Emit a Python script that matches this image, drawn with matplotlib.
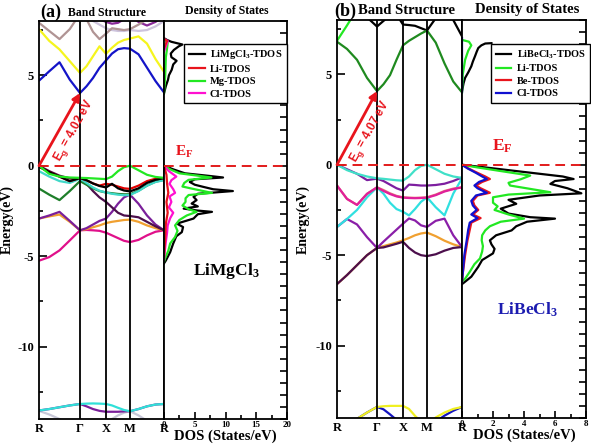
import numpy as np
import matplotlib
matplotlib.use("Agg")
import matplotlib.pyplot as plt
from matplotlib.ticker import MultipleLocator

nan = np.nan

# ---------------- k path ----------------
KPATH_LABELS = ["R", "Γ", "X", "M", "R"]
KPOS_A = [0, 1.64, 2.68, 3.64, 5.0]
KPOS_B = [0, 1.60, 2.64, 3.60, 5.0]
K_A = [0, 0.41, 0.82, 1.23, 1.64, 1.90, 2.16, 2.42, 2.68, 2.92, 3.16, 3.40, 3.64, 3.98, 4.32, 4.66, 5.0]
K_B = [0, 0.40, 0.80, 1.20, 1.60, 1.86, 2.12, 2.38, 2.64, 2.88, 3.12, 3.36, 3.60, 3.95, 4.30, 4.65, 5.0]

# ---------------- LiMgCl3 bands (eV) ----------------
a_taupe    = [7.90, 7.45, 7.00, 7.55, 8.40, 8.10, 7.40, 7.00, 7.30, 7.60, 7.55, 7.50, 7.55, 7.80, 8.10, 8.50, 8.80]
a_lavender = [8.60, 8.50, 8.40, 8.30, 8.30, 8.20, 8.00, 7.80, 7.60, 7.50, 7.45, 7.45, 7.50, 7.45, 7.50, 7.70, 8.00]
a_violet_t = [9.00, 9.00, 9.00, 9.00, 9.00, 8.80, 8.40, 8.10, 7.95, 7.85, 7.90, 8.10, 8.30, 7.95, 7.75, 7.95, 8.30]
a_yellow   = [7.55, 6.90, 6.43, 5.78, 5.13, 5.50, 6.05, 6.60, 6.19, 6.52, 6.80, 6.95, 7.03, 7.15, 6.75, 5.90, 5.19]
a_blue     = [4.70, 5.22, 5.72, 4.76, 4.02, 4.39, 4.85, 5.41, 5.82, 6.20, 6.44, 6.50, 6.47, 6.16, 5.42, 4.68, 4.05]

a_pink     = [-5.25, -5.05, -4.68, -4.13, -3.57, -3.55, -3.57, -3.60, -3.70, -3.85, -4.00, -4.15, -4.22, -4.10, -3.85, -3.65, -3.57]
a_orange   = [-2.92, -2.80, -2.70, -3.10, -3.57, -3.50, -3.40, -3.30, -3.17, -3.10, -3.05, -3.00, -2.98, -3.10, -3.30, -3.45, -3.57]
a_purple   = [-2.92, -2.75, -2.55, -3.05, -3.57, -3.45, -3.25, -3.05, -2.92, -2.55, -2.10, -1.75, -1.60, -2.10, -2.75, -3.25, -3.57]
a_dkpurple = [0.00, -0.30, -0.55, -0.70, -0.72, -1.00, -1.40, -1.75, -2.00, -2.30, -2.60, -2.75, -2.78, -2.85, -3.10, -3.35, -3.57]
a_dkgreen  = [-1.26, -1.60, -1.90, -1.40, -0.85, -1.05, -1.25, -1.40, -1.48, -1.52, -1.56, -1.58, -1.58, -1.38, -1.10, -0.88, -0.78]
a_teal     = [-0.30, -0.60, -0.85, -0.95, -0.72, -0.95, -1.20, -1.38, -1.48, -1.55, -1.60, -1.63, -1.62, -1.40, -1.10, -0.90, -0.80]
a_red      = [-0.05, -0.35, -0.60, -0.85, -0.68, -0.80, -0.98, -1.10, -1.00, -1.05, -1.15, -1.25, -1.28, -1.10, -0.85, -0.72, -0.68]
a_black    = [-0.05, -0.35, -0.60, -0.85, -0.68, -0.80, -0.98, -1.12, -1.20, -1.00, -1.25, -1.37, -1.42, -1.25, -0.95, -0.78, -0.68]
a_lime     = [0.00, -0.45, -0.60, -0.65, -0.67, -0.68, -0.70, -0.72, -0.74, -0.60, -0.30, -0.08, 0.00, -0.25, -0.50, -0.62, -0.67]

a_gray_low   = [-13.55, -13.75, -14.00, -14.30, -14.60, -14.60, -14.50, -14.40, -14.30, -14.00, -13.80, -13.65, -13.57, -13.80, -14.10, -14.40, -14.70]
a_violet_low = [-13.53, -13.45, -13.35, -13.25, -13.17, -13.30, -13.45, -13.55, -13.60, -13.60, -13.60, -13.58, -13.57, -13.45, -13.30, -13.20, -13.17]
a_cyan_low   = [-13.53, -13.45, -13.35, -13.25, -13.17, -13.15, -13.14, -13.15, -13.17, -13.25, -13.38, -13.50, -13.57, -13.45, -13.30, -13.20, -13.17]

# ---------------- LiBeCl3 bands (eV) ----------------
b_lime_t   = [6.85, 7.70, 8.60, 9.20, 9.50, 9.50, 9.50, 9.50, 9.50, 9.50, 9.50, 9.50, 9.50, 9.50, 9.50, 9.50, 9.50]
b_black_t  = [9.50, 9.20, 8.80, 8.15, 7.64, 7.95, 8.25, 8.30, 7.75, 7.72, 7.68, 7.55, 7.42, 8.10, 8.60, 8.00, 7.10]
b_green    = [6.80, 6.40, 5.80, 4.80, 4.07, 4.45, 4.95, 5.80, 6.60, 6.85, 7.05, 7.25, 7.42, 6.75, 5.60, 4.60, 4.00]

b_dkpurple = [-6.60, -6.10, -5.55, -5.00, -4.60, -4.57, -4.47, -4.37, -4.26, -4.60, -4.85, -5.00, -5.05, -4.95, -4.75, -4.60, -4.55]
b_orange   = [-6.60, -6.10, -5.55, -5.00, -4.60, -4.50, -4.40, -4.30, -4.18, -4.05, -3.90, -3.80, -3.75, -3.95, -4.20, -4.40, -4.55]
b_purple2  = [-3.44, -3.00, -3.30, -4.00, -4.60, -4.25, -3.92, -3.59, -3.26, -2.97, -3.08, -3.35, -3.44, -3.10, -2.98, -3.90, -4.55]
b_cyan     = [-3.44, -3.00, -2.50, -1.80, -1.25, -1.60, -2.10, -2.45, -2.60, -2.80, -2.45, -2.05, -1.80, -2.35, -2.80, -1.60, -0.75]
b_salmon   = [-1.15, -1.89, -2.22, -1.61, -1.25, -1.40, -1.58, -1.72, -1.80, -1.82, -1.83, -1.82, -1.80, -1.65, -1.45, -1.32, -1.25]
b_magenta  = [-1.15, -1.89, -2.22, -1.61, -1.25, -1.45, -1.62, -1.75, -1.82, -1.84, -1.85, -1.84, -1.82, -1.68, -1.48, -1.35, -1.25]
b_violet   = [0.00, -0.25, -0.50, -0.85, -0.77, -0.90, -1.10, -1.30, -1.43, -1.10, -1.12, -1.15, -1.15, -1.12, -1.05, -0.90, -0.70]
b_turq     = [0.00, -0.30, -0.50, -0.65, -0.75, -0.78, -0.82, -0.86, -0.88, -0.65, -0.30, -0.07, 0.00, -0.25, -0.50, -0.65, -0.73]

b_blue_low   = [-14.80, -14.40, -14.05, -13.70, -13.39, -13.52, -13.80, -14.10, -14.50, -14.80, -15.00, -14.80, -14.50, -14.20, -13.87, -13.60, -13.39]
b_yellow_low = [-14.80, -14.40, -14.05, -13.70, -13.39, -13.35, -13.33, -13.33, -13.33, -13.50, -13.88, -14.20, -14.45, -13.97, -13.70, -13.50, -13.39]

# ---------------- LiMgCl3 DOS (energy, states/eV) ----------------
a_tdos_E = [4.0, 4.4, 4.75, 5.0, 5.3, 5.6, 5.8, 6.0, 6.2, 6.4, 6.6, 6.7, 6.85, 6.95, 7.05, nan,
            0, -0.2, -0.42, -0.55, -0.65, -0.75, -0.9, -1.05, -1.17, -1.3, -1.4, -1.55, -1.72, -1.9,
            -2.09, -2.25, -2.37, -2.48, -2.55, -2.68, -2.92, -3.2, -3.39, -3.67, -3.9, -4.3, -4.78, -5.24, -5.4]
a_tdos_D = [0, 0.3, 0.65, 0.8, 1.25, 1.5, 2.05, 1.2, 1.1, 1.6, 2.4, 3.0, 1.2, 0.5, 0, nan,
            0, 1.5, 3.4, 7.0, 9.6, 5.0, 4.2, 5.0, 6.4, 8.0, 11.2, 5.5, 4.8, 5.3,
            4.5, 5.5, 3.2, 5.5, 7.8, 5.5, 4.8, 2.1, 3.1, 2.9, 2.0, 1.5, 1.0, 0.3, 0]
a_li_E = [6.5, 6.75, 6.9, 7.0, nan, 0, -0.5, -1.0, -1.5, -2.0, -2.6, -3.2, -4.0, -5.0]
a_li_D = [0, 0.3, 0.5, 0, nan, 0, 0.4, 0.5, 0.7, 0.4, 0.6, 0.3, 0.2, 0]
a_mg_E = [4.0, 5.0, 6.0, 6.5, 6.8, 7.0, nan, 0, -0.2, -0.42, -0.55, -0.65, -0.78, -0.95, -1.15, -1.3, -1.5,
          -1.62, -1.8, -2.0, -2.2, -2.4, -2.55, -2.75, -3.0, -3.3, -3.6, -3.94, -4.3, -4.7, -5.1, -5.3]
a_mg_D = [0, 0.2, 0.3, 0.5, 0.6, 0, nan, 0, 1.0, 2.5, 5.5, 7.7, 4.0, 3.3, 3.0, 5.0, 7.8,
          4.0, 3.5, 3.5, 3.0, 4.0, 5.3, 3.7, 2.5, 1.8, 2.2, 1.8, 1.0, 0.7, 0.2, 0]
a_cl_E = [6.3, 6.7, 6.9, 7.0, nan, 0, -0.3, -0.6, -0.8, -1.0, -1.3, -1.5, -1.7, -2.0, -2.3, -2.6, -2.9,
          -3.3, -3.7, -4.2, -4.8, -5.2]
a_cl_D = [0, 0.4, 0.6, 0, nan, 0, 0.8, 2.0, 1.2, 0.9, 1.5, 1.8, 0.9, 1.2, 0.8, 1.5, 1.0,
          0.6, 0.5, 0.3, 0.1, 0]

# ---------------- LiBeCl3 DOS ----------------
b_tdos_E = [4.05, 4.5, 4.8, 5.1, 5.44, 5.7, 6.0, 6.25, 6.45, 6.6, 6.7, 6.72, nan,
            0, -0.1, -0.25, -0.45, -0.65, -0.79, -0.9, -1.06, -1.3, -1.58, -1.7, -1.94, -2.16, -2.43,
            -2.7, -2.9, -2.98, -3.15, -3.4, -3.63, -3.9, -4.18, -4.4, -4.65, -4.9, -5.27, -5.64, -6.19, -6.5, -6.6]
b_tdos_D = [0, 0.1, 0.2, 0.4, 0.6, 0.7, 0.84, 0.95, 1.05, 1.25, 1.5, 1.9, nan,
            0, 1.0, 2.5, 4.5, 6.5, 7.2, 6.0, 5.7, 6.8, 7.7, 5.0, 3.0, 3.5, 2.5,
            3.0, 4.4, 6.0, 4.2, 3.5, 3.2, 2.2, 1.8, 1.9, 2.1, 2.0, 1.3, 1.05, 0.6, 0.15, 0]
b_li_E = [4.0, 5.0, 5.8, 6.3, 6.6, 6.8, 6.9, nan, 0, -0.15, -0.35, -0.6, -0.8, -1.0, -1.15, -1.35, -1.52,
          -1.65, -1.8, -2.1, -2.3, -2.5, -2.75, -2.98, -3.15, -3.4, -3.63, -3.9, -4.18, -4.5, -4.8,
          -5.18, -5.5, -5.92, -6.3, -6.47]
b_li_D = [0, 0.05, 0.2, 0.4, 0.6, 0.45, 0, nan, 0, 1.0, 2.5, 4.4, 3.8, 3.0, 3.1, 4.5, 5.7,
          3.0, 2.0, 2.0, 2.3, 2.1, 3.0, 4.0, 2.5, 1.8, 1.5, 1.3, 1.27, 1.35, 1.3,
          1.16, 0.8, 0.5, 0.2, 0]
b_pdos_E = [0, -0.2, -0.45, -0.65, -0.79, -0.95, -1.15, -1.3, -1.55, -1.7, -2.0, -2.25, -2.5, -2.75,
            -2.95, -3.2, -3.6, -4.2, -5.0, -6.0, -6.5]
b_be_D = [0, 0.4, 1.0, 1.5, 1.8, 1.3, 0.9, 1.2, 1.8, 1.0, 0.7, 0.8, 1.05, 0.7, 1.2, 0.6, 0.5, 0.35, 0.2, 0.05, 0]
b_cl_D = [0, 0.35, 0.9, 1.3, 1.6, 1.1, 0.8, 1.0, 1.6, 0.9, 0.6, 0.7, 0.95, 0.6, 1.0, 0.5, 0.4, 0.3, 0.15, 0.05, 0]
b_cl_cb_E = [4.0, 7.0]
b_cl_cb_D = [0.03, 0.03]

EG_A = 4.02
EG_B = 4.07


def setup_fonts():
    plt.rcParams["font.family"] = ["Liberation Serif", "DejaVu Serif"]
    plt.rcParams["font.weight"] = "bold"
    plt.rcParams["axes.unicode_minus"] = False
    plt.rcParams["mathtext.fontset"] = "custom"
    plt.rcParams["mathtext.rm"] = "Liberation Serif:bold"
    plt.rcParams["mathtext.it"] = "Liberation Serif:bold"
    plt.rcParams["mathtext.bf"] = "Liberation Serif:bold"
    plt.rcParams["mathtext.sf"] = "Liberation Sans:bold"
    plt.rcParams["mathtext.default"] = "rm"


def draw_bands(ax, k, kpos, bands, eg, eg_text, text_xy, label_x):
    for e, c in bands:
        ax.plot(k, e, color=c, lw=1.6, solid_capstyle="round")
    for x in kpos[1:-1]:
        ax.axvline(x, color="black", lw=1.3, zorder=3)
    ax.axhline(0, color="#e21b1b", lw=1.4, ls=(0, (5, 3)), zorder=4)
    ax.set_xlim(kpos[0], kpos[-1])
    ax.set_ylim(-14, 8)
    ax.set_xticks(kpos)
    ax.set_xticklabels(KPATH_LABELS, fontsize=9)
    ax.tick_params(axis="x", length=0, pad=3)
    ax.yaxis.set_major_locator(MultipleLocator(5))
    ax.yaxis.set_minor_locator(MultipleLocator(2.5))
    ax.tick_params(axis="y", which="both", direction="in", labelsize=9, right=False)
    ax.tick_params(axis="y", which="major", length=6, width=1.2)
    ax.tick_params(axis="y", which="minor", length=3, width=1.2)
    ax.set_ylabel("Energy(eV)", fontsize=10, fontweight="bold")
    ax.yaxis.set_label_coords(label_x, 0.5)
    for s in ax.spines.values():
        s.set_linewidth(1.3)
    ax.annotate("", xy=(kpos[1], eg), xytext=(0, 0),
                arrowprops=dict(arrowstyle="-|>", color="#e8141c", lw=2.0, mutation_scale=11,
                                shrinkA=0, shrinkB=0), zorder=6)
    ax.text(text_xy[0], text_xy[1], eg_text, color="#e8141c", fontsize=8.5, rotation=61,
            ha="center", va="center", rotation_mode="anchor", family="Liberation Sans", zorder=6)


def draw_dos(ax, curves, xmax, xmaj, xmin):
    lines = []
    for e, d, c in curves:
        lines += ax.plot(d, e, color=c, lw=1.6)
    ax.axhline(0, color="#e21b1b", lw=1.4, ls=(0, (5, 3)), zorder=4)
    ax.set_xlim(0, xmax)
    ax.set_ylim(-14, 8)
    ax.xaxis.set_major_locator(MultipleLocator(xmaj))
    ax.xaxis.set_minor_locator(MultipleLocator(xmin))
    ax.set_yticks(np.arange(-21, 13) * 2 / 3)
    ax.tick_params(axis="y", which="both", left=False, right=True, labelleft=False,
                   direction="in", length=5, width=1.2)
    ax.tick_params(axis="x", which="major", direction="in", length=5, width=1.2, labelsize=6.5, pad=1.5)
    ax.tick_params(axis="x", which="minor", direction="in", length=3, width=1.2)
    ax.set_xlabel("DOS (States/eV)", fontsize=10.5, fontweight="bold", labelpad=0)
    for s in ax.spines.values():
        s.set_linewidth(1.3)
    return lines


def add_legend(ax, handles, labels, anchor):
    leg = ax.legend(handles, labels, loc="upper right", bbox_to_anchor=anchor, fontsize=7.5,
                    fancybox=False, edgecolor="black", framealpha=1, handlelength=1.5,
                    labelspacing=0.3, borderpad=0.45, handletextpad=0.5, borderaxespad=0)
    leg.get_frame().set_linewidth(1.0)


def main():
    setup_fonts()
    W, H = 591, 448
    fig = plt.figure(figsize=(W / 100, H / 100), dpi=100)

    def box(x0, y0, x1, y1):
        return [x0 / W, 1 - y1 / H, (x1 - x0) / W, (y1 - y0) / H]

    ax_ba = fig.add_axes(box(39, 21, 164, 419))
    ax_da = fig.add_axes(box(164, 21, 287, 419))
    ax_bb = fig.add_axes(box(337, 20, 462, 418))
    ax_db = fig.add_axes(box(462, 20, 586, 418))

    bands_a = [
        (a_lavender, "#cdc3dc"), (a_violet_t, "#8a2a9a"), (a_taupe, "#b09494"),
        (a_yellow, "#f5f51e"), (a_blue, "#1414c8"),
        (a_pink, "#e0108a"), (a_orange, "#f0a030"), (a_purple, "#7a1f9a"), (a_dkpurple, "#4c0f4c"),
        (a_dkgreen, "#1e7e2a"), (a_teal, "#40d8c8"), (a_red, "#e00000"), (a_black, "black"),
        (a_lime, "#22e822"),
        (a_gray_low, "#c8c8d8"), (a_violet_low, "#7a1f9a"), (a_cyan_low, "#30e0d8"),
    ]
    draw_bands(ax_ba, K_A, KPOS_A, bands_a, EG_A, r"$\mathsf{E_g}$ = 4.02 eV", (1.42, 1.95), -0.2)

    bands_b = [
        (b_lime_t, "#22e822"), (b_black_t, "black"), (b_green, "#1f8a1f"),
        (b_orange, "#f0a030"), (b_dkpurple, "#4c0f4c"), (b_purple2, "#8a1fa8"),
        (b_cyan, "#30e0e0"), (b_salmon, "#e87878"), (b_magenta, "#e0209a"),
        (b_violet, "#7d1fa0"), (b_turq, "#40e0c8"),
        (b_blue_low, "#1414c0"), (b_yellow_low, "#f0f020"),
    ]
    draw_bands(ax_bb, K_B, KPOS_B, bands_b, EG_B, r"$\mathsf{E_g}$ = 4.07 eV", (1.34, 1.85), -0.216)

    # LiMgCl3 DOS: black total, then Mg, Cl, Li on top
    h = draw_dos(ax_da, [
        (a_tdos_E, a_tdos_D, "black"),
        (a_mg_E, a_mg_D, "#22e822"),
        (a_cl_E, a_cl_D, "#ff10d0"),
        (a_li_E, a_li_D, "#e8141c"),
    ], 20, 5, 2.5)
    add_legend(ax_da, [h[0], h[3], h[1], h[2]],
               [r"LiMgCl$_3$-TDOS", "Li-TDOS", "Mg-TDOS", "Cl-TDOS"], (1.0, 0.943))

    h = draw_dos(ax_db, [
        (b_tdos_E, b_tdos_D, "black"),
        (b_li_E, b_li_D, "#22e822"),
        (b_pdos_E, b_be_D, "#e8141c"),
        (b_pdos_E, b_cl_D, "#1010d0"),
        (b_cl_cb_E, b_cl_cb_D, "#1010d0"),
    ], 8, 2, 1)
    add_legend(ax_db, [h[0], h[1], h[2], h[3]],
               [r"LiBeCl$_3$-TDOS", "Li-TDOS", "Be-TDOS", "Cl-TDOS"], (1.035, 0.94))

    # Fermi level labels and compound names
    ax_da.text(3.25, 0.75, r"E$_\mathrm{F}$", color="#e8141c", fontsize=11, ha="center", va="center")
    ax_db.text(2.6, 1.0, r"E$_\mathrm{F}$", color="#e8141c", fontsize=12.5, ha="center", va="center")
    ax_da.text(10.1, -5.8, r"LiMgCl$_3$", color="black", fontsize=12.5, ha="center", va="center")
    ax_db.text(4.2, -8.0, r"LiBeCl$_3$", color="#1c1cb0", fontsize=12.5, ha="center", va="center")

    # panel headers
    def ftext(px, py, s, size):
        fig.text(px / W, 1 - py / H, s, fontsize=size, fontweight="bold", ha="center", va="center")

    ftext(51, 12, "(a)", 13)
    ftext(107, 13, "Band Structure", 8.5)
    ftext(227, 11, "Density of States", 8.5)
    ftext(345, 11, "(b)", 13)
    ftext(406, 11, "Band Structure", 10.5)
    ftext(527, 10, "Density of States", 10.5)

    fig.savefig("out.png", dpi=100)
    plt.close(fig)


if __name__ == "__main__":
    main()
